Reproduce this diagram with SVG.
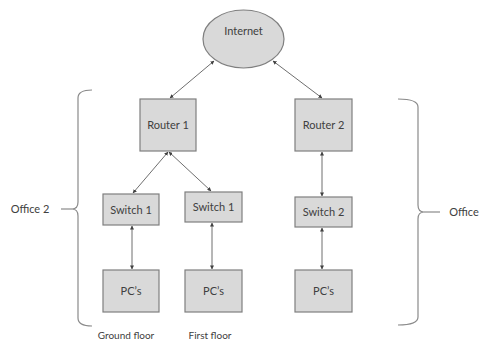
<svg xmlns="http://www.w3.org/2000/svg" width="483" height="341" viewBox="0 0 483 341">
<defs>
<style>
.box{fill:#d9d9d9;stroke:#7f7f7f;stroke-width:1.2}
.t{font-family:Lato,"Liberation Sans",sans-serif;font-size:11px;fill:#404040;text-anchor:middle}
.c{stroke:#6f6f6f;stroke-width:1;fill:none;marker-start:url(#ah);marker-end:url(#ah)}
.br{stroke:#8a8a8a;stroke-width:1.2;fill:none}
</style>
<marker id="ah" viewBox="0 0 10 10" refX="9" refY="5" markerWidth="4" markerHeight="4" orient="auto-start-reverse" markerUnits="userSpaceOnUse">
<path d="M0,0 L10,5 L0,10 z" fill="#404040"/>
</marker>
</defs>
<rect width="483" height="341" fill="#ffffff"/>
<g id="connectors">
<line class="c" x1="214" y1="61" x2="170" y2="98"/>
<line class="c" x1="273" y1="61" x2="322" y2="98"/>
<line class="c" x1="168" y1="152" x2="133" y2="193"/>
<line class="c" x1="169" y1="152" x2="211" y2="191"/>
<line class="c" x1="322" y1="152" x2="322" y2="196"/>
<line class="c" x1="132" y1="226" x2="132" y2="269"/>
<line class="c" x1="212" y1="223" x2="212" y2="269"/>
<line class="c" x1="322" y1="228" x2="322" y2="269"/>
</g>
<g id="internet">
<ellipse class="box" cx="243.5" cy="39" rx="40.5" ry="29"/>
<text class="t" x="243.5" y="35">Internet</text>
</g>
<g id="router1">
<rect class="box" x="140" y="99" width="56" height="52"/>
<text class="t" x="168" y="129">Router 1</text>
</g>
<g id="router2">
<rect class="box" x="295" y="99" width="57" height="52"/>
<text class="t" x="323.5" y="129">Router 2</text>
</g>
<g id="switch1a">
<rect class="box" x="103" y="194" width="56" height="31"/>
<text class="t" x="131" y="213.5">Switch 1</text>
</g>
<g id="switch1b">
<rect class="box" x="185" y="192" width="57" height="30"/>
<text class="t" x="213.5" y="211">Switch 1</text>
</g>
<g id="switch2">
<rect class="box" x="295" y="197" width="57" height="30"/>
<text class="t" x="323.5" y="216">Switch 2</text>
</g>
<g id="pc1">
<rect class="box" x="103" y="270" width="56" height="42"/>
<text class="t" x="131" y="295">PC’s</text>
</g>
<g id="pc2">
<rect class="box" x="185" y="270" width="57" height="42"/>
<text class="t" x="213.5" y="295">PC’s</text>
</g>
<g id="pc3">
<rect class="box" x="295" y="270" width="57" height="42"/>
<text class="t" x="323.5" y="295">PC’s</text>
</g>
<g id="office2">
<path class="br" d="M92,90 Q78,90 78,98 L78,202 Q78,209 72,209 Q78,209 78,216 L78,318 Q78,326 92,326"/>
<line class="br" x1="61" y1="209" x2="72" y2="209"/>
<text class="t" x="30" y="213">Office 2</text>
</g>
<g id="office">
<path class="br" d="M398,99 Q418,99 418,107 L418,205 Q418,212 424,212 Q418,212 418,219 L418,317 Q418,325 398,325"/>
<line class="br" x1="424" y1="212" x2="440" y2="212"/>
<text class="t" x="464" y="216">Office</text>
</g>
<g id="labels">
<text class="t" x="126" y="339" style="font-size:10px">Ground floor</text>
<text class="t" x="210" y="339" style="font-size:10px">First floor</text>
</g>
</svg>
